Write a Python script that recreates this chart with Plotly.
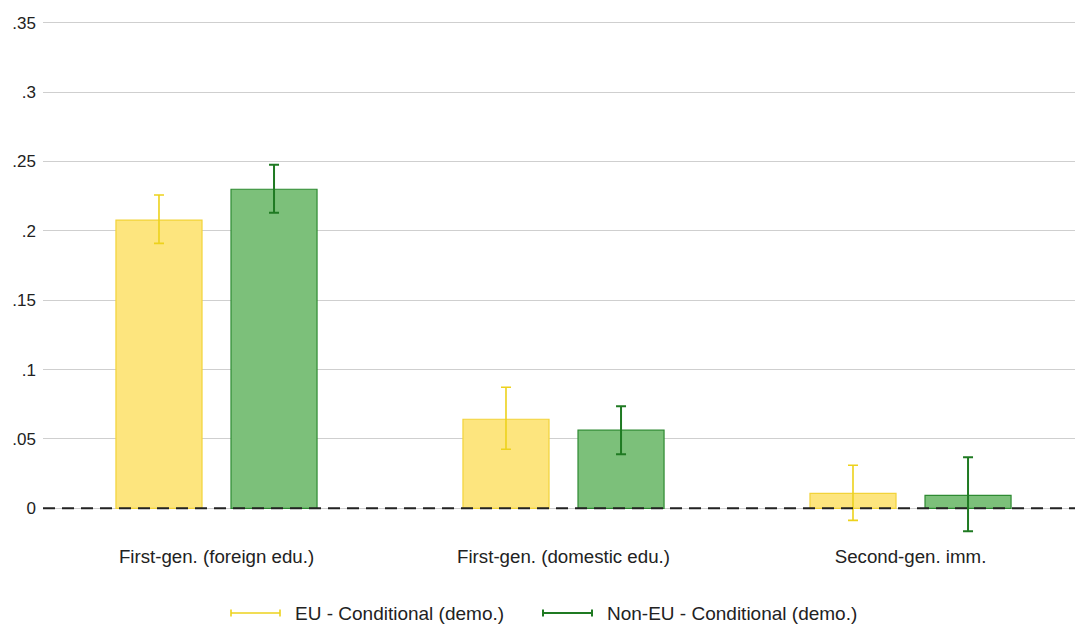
import plotly.graph_objects as go

categories = ["First-gen. (foreign edu.)", "First-gen. (domestic edu.)", "Second-gen. imm."]

eu_values = [0.2078, 0.0642, 0.0108]
eu_upper = [0.2258, 0.0873, 0.0310]
eu_lower = [0.1910, 0.0426, -0.0087]

noneu_values = [0.2300, 0.0563, 0.0094]
noneu_upper = [0.2476, 0.0736, 0.0368]
noneu_lower = [0.2130, 0.0390, -0.0166]

y_ticks = [0, 0.05, 0.1, 0.15, 0.2, 0.25, 0.3, 0.35]
y_tick_labels = ["0", ".05", ".1", ".15", ".2", ".25", ".3", ".35"]

series = [
    ("EU - Conditional (demo.)", eu_values, eu_upper, eu_lower,
     "#FDE57E", "#F2D33A", "#EDD21C", 1.6),
    ("Non-EU - Conditional (demo.)", noneu_values, noneu_upper, noneu_lower,
     "#7CC07A", "#2E8A32", "#1F7A22", 2.0),
]

# page geometry (px)
W, H = 1079, 626
M_L, M_R, M_T, M_B = 43, 4, 20, 83
plot_w = W - M_L - M_R
plot_h = H - M_T - M_B


def px_to_paper_x(px):
    return (px - M_L) / plot_w


def px_to_paper_y(py):
    return (H - M_B - py) / plot_h


fig = go.Figure()
for name, vals, up, lo, fill, edge, err, ew in series:
    fig.add_trace(go.Bar(
        x=categories, y=vals, name=name, showlegend=False,
        marker=dict(color=fill, line=dict(color=edge, width=1.2)),
        error_y=dict(type="data", symmetric=False,
                     array=[u - v for u, v in zip(up, vals)],
                     arrayminus=[v - l for v, l in zip(vals, lo)],
                     color=err, thickness=ew, width=5),
    ))

# dashed reference line at zero
fig.add_shape(type="line", xref="paper", yref="y", x0=0, x1=1, y0=0, y1=0,
              line=dict(color="#222222", width=2, dash="12px,7px"), layer="above")

# legend row: capped line key + label for each series
legend_key_px = [231, 543]
key_len, cap_half, text_gap, legend_row_px = 49, 3.5, 13, 613
ly = px_to_paper_y(legend_row_px)
cap_dy = cap_half / plot_h
for (name, *_rest), kx in zip(series, legend_key_px):
    err, ew = _rest[-2], _rest[-1]
    x0, x1 = px_to_paper_x(kx), px_to_paper_x(kx + key_len)
    style = dict(color=err, width=ew)
    fig.add_shape(type="line", xref="paper", yref="paper",
                  x0=x0, x1=x1, y0=ly, y1=ly, line=style)
    for xc in (x0, x1):
        fig.add_shape(type="line", xref="paper", yref="paper",
                      x0=xc, x1=xc, y0=ly - cap_dy, y1=ly + cap_dy, line=style)
    fig.add_annotation(xref="paper", yref="paper",
                       x=px_to_paper_x(kx + key_len + text_gap), y=ly,
                       xanchor="left", yanchor="middle", showarrow=False,
                       text=name, font=dict(size=19, color="#222222"))

fig.update_layout(
    width=W, height=H,
    margin=dict(l=M_L, r=M_R, t=M_T, b=M_B, autoexpand=False),
    paper_bgcolor="white", plot_bgcolor="white",
    barmode="group", bargap=0.337, bargroupgap=0.252,
    font=dict(family="Liberation Sans, Arial, sans-serif", size=19, color="#222222"),
    showlegend=False,
    xaxis=dict(range=[-0.5, 2.474], showgrid=False, zeroline=False, showline=False,
               ticks="", tickfont=dict(size=18.7), automargin=False),
    yaxis=dict(range=[-0.025, 0.352], tickvals=y_ticks, ticktext=y_tick_labels,
               showgrid=True, gridcolor="#CFCFCF", gridwidth=1, zeroline=False,
               showline=False, ticks="", ticklabelstandoff=6,
               tickfont=dict(size=17), automargin=False),
)

fig.write_html("out.html")
